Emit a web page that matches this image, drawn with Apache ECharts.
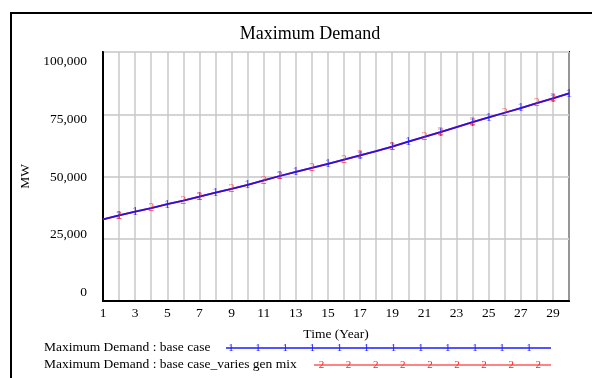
<!DOCTYPE html>
<html>
<head>
<meta charset="utf-8">
<script src="https://cdn.jsdelivr.net/npm/echarts@6/dist/echarts.min.js"></script>
<style>html,body{margin:0;padding:0;background:#fff;}#c{width:592px;height:378px;}</style>
</head>
<body>
<div id="c"></div>
<script>
const years = [1,2,3,4,5,6,7,8,9,10,11,12,13,14,15,16,17,18,19,20,21,22,23,24,25,26,27,28,29,30];
const baseCase = [32800,34400,35900,37300,38900,40300,41900,43500,45000,46600,48400,50200,51900,53500,55100,56800,58500,60200,62000,64000,65900,67800,69800,71800,73700,75600,77500,79500,81400,83400];
const variesGenMix = [32800,34400,35900,37300,38900,40300,41900,43500,45000,46600,48400,50200,51900,53500,55100,56800,58500,60200,62000,64000,65900,67800,69800,71800,73700,75600,77500,79500,81400,83400];
const marker1Years = [2,3,5,7,8,10,12,13,15,17,19,20,22,24,25,27,29,30];
const marker2Years = [2,4,6,7,9,11,12,14,16,17,19,21,22,24,26,28,29];
const yTicks = [0,25000,50000,75000,100000];
const seriesNames = ['Maximum Demand : base case','Maximum Demand : base case_varies gen mix'];
const titleText = 'Maximum Demand';
const xName = 'Time (Year)';
const yName = 'MW';

const FONT = 'Liberation Serif, Times New Roman, serif';
const chart = echarts.init(document.getElementById('c'), null, {renderer:'canvas'});

function pairs(vals){ return years.map((y,i)=>[y, vals[i]]); }
function markerData(list, vals){ return list.map(t=>[t, vals[years.indexOf(t)]]); }

const graphic = [
  {type:'rect', shape:{x:11,y:13,width:620,height:400}, style:{fill:'none', stroke:'#000', lineWidth:2}, z:0, silent:true}
];
const leg = [
  {name:seriesNames[0], y:348, x0:226, x1:551, m0:231, n:12, color:'#1a1aff', mark:'1', mcolor:'#1a1aff'},
  {name:seriesNames[1], y:365, x0:314, x1:551, m0:321.5, n:9, color:'#ff5a5a', mark:'2', mcolor:'#ff2020'}
];
leg.forEach(l=>{
  graphic.push({type:'text', left:44, top:l.y-8, style:{text:l.name, font:'13.5px '+FONT, fill:'#000'}});
  graphic.push({type:'line', shape:{x1:l.x0,y1:l.y,x2:l.x1,y2:l.y}, style:{stroke:l.color, lineWidth:1.6}});
  for(let k=0;k<l.n;k++){
    graphic.push({type:'text', x:l.m0+k*27.1, y:l.y, style:{text:l.mark, font:'11px '+FONT, fill:l.mcolor, align:'center', verticalAlign:'middle'}});
  }
});

// per-label vertical nudge (Vensim spreads its y labels slightly)
const yRich = {};
yTicks.forEach((v,i)=>{
  const d = -8.3 + 4.43*i;
  yRich['t'+i] = {fontFamily:FONT, fontSize:13.5, color:'#000',
    padding: d>=0 ? [2*d,0,0,0] : [0,0,-2*d,0]};
});

chart.setOption({
  animation:false,
  backgroundColor:'#fff',
  title:{text:titleText, left:305, top:20, textAlign:'center', textStyle:{fontFamily:FONT, fontSize:18, fontWeight:'normal', color:'#000'}},
  grid:{left:103, right:23, top:52, bottom:77, show:true, borderColor:'#000', borderWidth:2, backgroundColor:'transparent', containLabel:false},
  xAxis:{type:'value', min:1, max:30, interval:1,
    name:xName, nameLocation:'middle', nameGap:26,
    nameTextStyle:{fontFamily:FONT, fontSize:13.5, color:'#000'},
    axisLine:{show:true, lineStyle:{color:'#000', width:2}},
    axisTick:{show:false},
    axisLabel:{fontFamily:FONT, fontSize:13.5, color:'#000', margin:5, formatter:v=> (v%2===1 ? String(v) : '')},
    splitLine:{show:true, lineStyle:{color:'#c8c8c8', width:1.5}}
  },
  yAxis:{type:'value', min:0, max:100000, interval:25000,
    name:yName, nameLocation:'middle', nameGap:70, nameRotate:90,
    nameTextStyle:{fontFamily:FONT, fontSize:13.5, color:'#000'},
    axisLine:{show:true, lineStyle:{color:'#000', width:2}},
    axisTick:{show:false},
    axisLabel:{fontFamily:FONT, fontSize:13.5, color:'#000', margin:16,
      formatter:v=>{ const i = yTicks.indexOf(v); return '{t'+i+'|'+v.toLocaleString('en-US')+'}'; },
      rich:yRich},
    splitLine:{show:true, lineStyle:{color:'#d4d4d4', width:2}}
  },
  series:[
    {name:seriesNames[1], type:'line', data:pairs(variesGenMix), showSymbol:false, lineStyle:{color:'#ff4040', width:1.8}, z:2},
    {name:seriesNames[0], type:'line', data:pairs(baseCase), showSymbol:false, lineStyle:{color:'#2a10e0', width:1.8}, z:3},
    {type:'scatter', data:markerData(marker1Years, baseCase), symbolSize:1, itemStyle:{color:'rgba(0,0,0,0)'}, z:4,
      label:{show:true, position:'inside', formatter:'1', fontFamily:FONT, fontSize:13, color:'#1a1aff'}},
    {type:'scatter', data:markerData(marker2Years, variesGenMix), symbolSize:1, itemStyle:{color:'rgba(0,0,0,0)'}, z:5,
      label:{show:true, position:'inside', formatter:'2', fontFamily:FONT, fontSize:12, color:'rgba(255,40,40,0.85)'}}
  ],
  graphic:graphic
});
</script>
</body>
</html>
